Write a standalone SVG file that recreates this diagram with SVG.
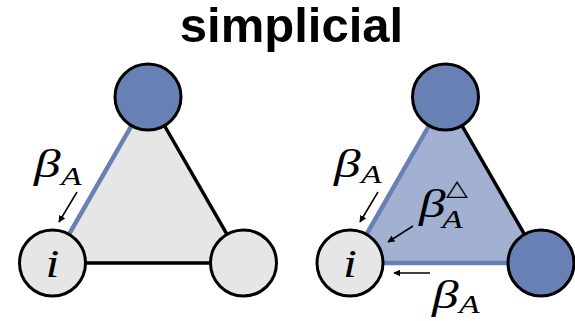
<svg xmlns="http://www.w3.org/2000/svg" width="575" height="321" viewBox="0 0 575 321">
<defs>
<style>
.title{font-family:"Liberation Sans",Arial,sans-serif;font-weight:bold;font-size:49px;fill:#000}
.m{font-family:"Liberation Serif","DejaVu Serif",serif;font-style:italic;fill:#000}
.b{font-size:41px}
.s{font-size:25px}
.node{stroke:#000;stroke-width:3}
.gray{fill:#e6e6e6}
.blue{fill:#6880b4}
.edge{stroke:#000;stroke-width:3.5;fill:none}
.bedge{stroke:#6880b4;stroke-width:4.5;fill:none}
.arr{stroke:#000;stroke-width:1.5;fill:none;marker-end:url(#ah)}
</style>
<marker id="ah" viewBox="0 0 10 10" refX="9" refY="5" markerWidth="7" markerHeight="7" markerUnits="userSpaceOnUse" orient="auto">
<path d="M0,0 L10,5 L0,10 z" fill="#000"/>
</marker>
</defs>
<text class="title" x="291.5" y="42" text-anchor="middle">simplicial</text>

<g id="tri-left">
<polygon points="52.5,263 148,97 243.5,263" fill="#e6e6e6"/>
</g>
<g id="tri-right">
<polygon points="350,263 445.5,97 541,263" fill="#a2b0d2"/>
</g>

<g id="connectors">
<line class="bedge" x1="52.5" y1="263" x2="148" y2="97"/>
<line class="edge" x1="148" y1="97" x2="243.5" y2="263"/>
<line class="edge" x1="52.5" y1="263" x2="243.5" y2="263"/>
<line class="bedge" x1="350" y1="263" x2="445.5" y2="97"/>
<line class="edge" x1="445.5" y1="97" x2="541" y2="263"/>
<line class="bedge" x1="350" y1="263" x2="541" y2="263"/>
<line class="arr" x1="77" y1="192" x2="59" y2="222"/>
<line class="arr" x1="378" y1="192" x2="360" y2="222"/>
<line class="arr" x1="413" y1="226" x2="388" y2="242"/>
<line class="arr" x1="430" y1="273" x2="394" y2="273"/>
</g>

<g id="node-left-i">
<circle class="node gray" cx="52.5" cy="263" r="33"/>
<text class="m" transform="translate(52.5,277) scale(1.25,1)" font-size="40" text-anchor="middle">i</text>
</g>
<g id="node-left-top">
<circle class="node blue" cx="148" cy="97" r="33"/>
</g>
<g id="node-left-right">
<circle class="node gray" cx="243.5" cy="263" r="33"/>
</g>
<g id="node-right-i">
<circle class="node gray" cx="350" cy="263" r="33"/>
<text class="m" transform="translate(350,277) scale(1.25,1)" font-size="40" text-anchor="middle">i</text>
</g>
<g id="node-right-top">
<circle class="node blue" cx="445.5" cy="97" r="33"/>
</g>
<g id="node-right-right">
<circle class="node blue" cx="541" cy="263" r="33"/>
</g>

<g id="labels">
<text class="m b" transform="translate(34,177) scale(1.3,1)">β</text>
<text class="m s" transform="translate(61,185) scale(1.35,1)">A</text>
<text class="m b" transform="translate(334,177) scale(1.3,1)">β</text>
<text class="m s" transform="translate(361,183) scale(1.35,1)">A</text>
<text class="m b" transform="translate(419,217) scale(1.3,1)">β</text>
<text transform="translate(446,195) scale(1.3,1)" font-family="DejaVu Sans,sans-serif" font-size="22" fill="#000">△</text>
<text class="m s" transform="translate(442,228) scale(1.35,1)">A</text>
<text class="m b" transform="translate(432,308) scale(1.3,1)">β</text>
<text class="m s" transform="translate(459,313) scale(1.35,1)">A</text>
</g>
</svg>
